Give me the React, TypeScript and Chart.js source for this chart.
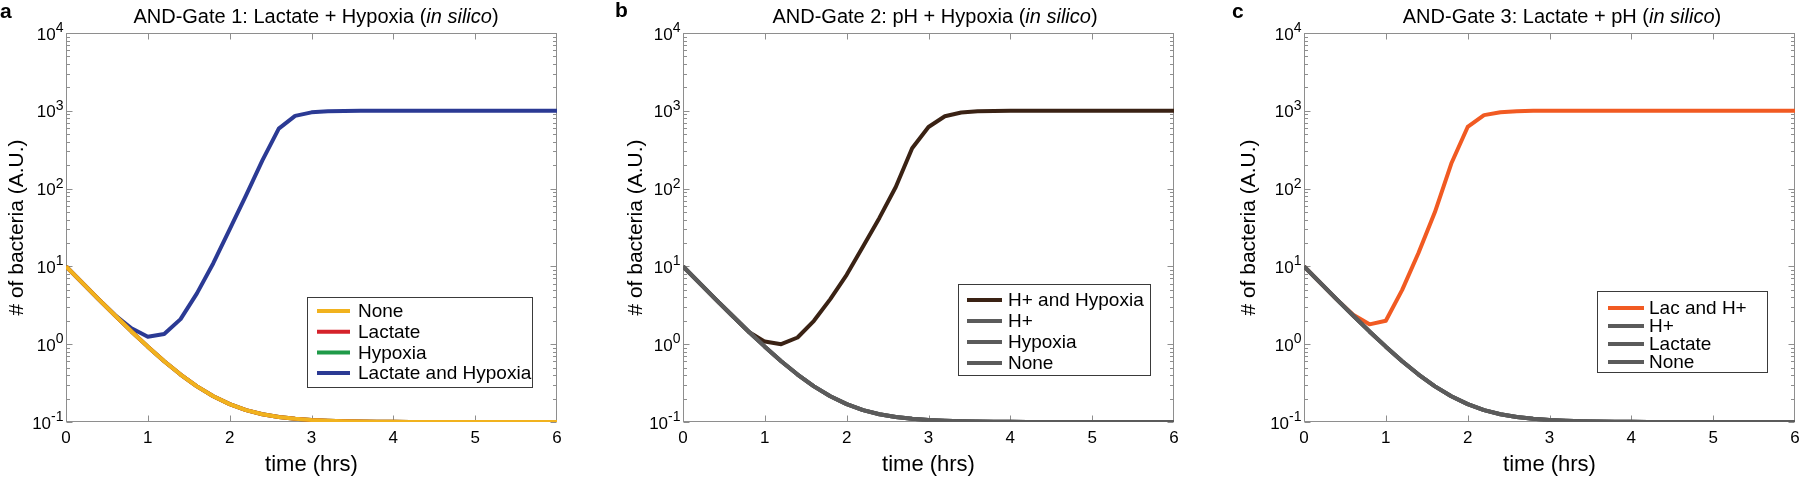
import React, { useEffect, useRef } from 'react';
import { Chart, registerables } from 'chart.js';

Chart.register(...registerables);

// ---------- data ----------
const TIME_HRS = [0, 0.2, 0.4, 0.6, 0.8, 1, 1.2, 1.4, 1.6, 1.8, 2, 2.2, 2.4, 2.6, 2.8, 3, 3.2, 3.4, 3.6, 3.8, 4, 4.2, 4.4, 4.6, 4.8, 5, 5.2, 5.4, 5.6, 5.8, 6];

// single-input / no-input conditions: decay toward 10^-1
const DECAY_ONLY = [10, 6.13, 3.77, 2.34, 1.46, 0.93, 0.605, 0.407, 0.287, 0.214, 0.17, 0.142, 0.126, 0.116, 0.11, 0.106, 0.1035, 0.1021, 0.1013, 0.1008, 0.1005, 0.1003, 0.1002, 0.1001, 0.1001, 0.1, 0.1, 0.1, 0.1, 0.1, 0.1];

const A_LACTATE_HYPOXIA = [10, 6.13, 3.77, 2.36, 1.6, 1.25, 1.35, 2.1, 4.5, 11, 30, 82, 230, 590, 860, 955, 988, 997, 1000, 1000, 1000, 1000, 1000, 1000, 1000, 1000, 1000, 1000, 1000, 1000, 1000];

const B_H_HYPOXIA = [10, 6.13, 3.77, 2.34, 1.45, 1.08, 1.0, 1.22, 2.0, 3.8, 7.8, 18, 42, 105, 330, 620, 850, 950, 985, 996, 1000, 1000, 1000, 1000, 1000, 1000, 1000, 1000, 1000, 1000, 1000];

const C_LAC_H = [10, 6.13, 3.77, 2.4, 1.8, 2.0, 5.0, 15, 50, 210, 620, 880, 960, 990, 998, 1000, 1000, 1000, 1000, 1000, 1000, 1000, 1000, 1000, 1000, 1000, 1000, 1000, 1000, 1000, 1000];

const Y_DECADE_EXPONENTS = [-1, 0, 1, 2, 3, 4];
const X_INNER_TICKS = [1, 2, 3, 4, 5];
const MINOR_MULTS = [2, 3, 4, 5, 6, 7, 8, 9];

const FONT = '"Liberation Sans", Arial, Helvetica, sans-serif';
const GRAY_AXIS = '#8e8e8e';

type Series = { label: string; data: number[]; color: string; order: number };
type LegendCfg = { x: number; y: number; w: number; h: number; row0: number; gap: number; s0: number; s1: number; tx: number };
type PanelCfg = {
  left: number;
  width: number;
  yAxisW: number;
  rightPad: number;
  yTitleCenter: number;
  letter: string;
  letterX: number;
  letterBase: number;
  titlePre: string;
  titleCenter: number;
  series: Series[];
  legend: LegendCfg;
};

const PANELS: PanelCfg[] = [
  {
    left: 0, width: 600, yAxisW: 66, rightPad: 43, yTitleCenter: 17,
    letter: 'a', letterX: 0, letterBase: 18,
    titlePre: 'AND-Gate 1: Lactate + Hypoxia (', titleCenter: 316,
    series: [
      { label: 'None', data: DECAY_ONLY, color: '#F1B21E', order: 0 },
      { label: 'Lactate', data: DECAY_ONLY, color: '#D5222B', order: 0 },
      { label: 'Hypoxia', data: DECAY_ONLY, color: '#1F9A48', order: 0 },
      { label: 'Lactate and Hypoxia', data: A_LACTATE_HYPOXIA, color: '#2B3A94', order: 1 },
    ],
    legend: { x: 307, y: 297, w: 226, h: 91, row0: 311, gap: 20.7, s0: 317, s1: 350, tx: 358 },
  },
  {
    left: 600, width: 600, yAxisW: 83, rightPad: 26, yTitleCenter: 636,
    letter: 'b', letterX: 615, letterBase: 17,
    titlePre: 'AND-Gate 2: pH + Hypoxia (', titleCenter: 935,
    series: [
      { label: 'H+ and Hypoxia', data: B_H_HYPOXIA, color: '#3A2214', order: 1 },
      { label: 'H+', data: DECAY_ONLY, color: '#5B5B5B', order: 0 },
      { label: 'Hypoxia', data: DECAY_ONLY, color: '#5B5B5B', order: 0 },
      { label: 'None', data: DECAY_ONLY, color: '#5B5B5B', order: 0 },
    ],
    legend: { x: 958, y: 284, w: 193, h: 92, row0: 300, gap: 21, s0: 967, s1: 1002, tx: 1008 },
  },
  {
    left: 1200, width: 600, yAxisW: 104, rightPad: 5, yTitleCenter: 1249,
    letter: 'c', letterX: 1232, letterBase: 18,
    titlePre: 'AND-Gate 3: Lactate + pH (', titleCenter: 1562,
    series: [
      { label: 'Lac and H+', data: C_LAC_H, color: '#F15A22', order: 1 },
      { label: 'H+', data: DECAY_ONLY, color: '#5B5B5B', order: 0 },
      { label: 'Lactate', data: DECAY_ONLY, color: '#5B5B5B', order: 0 },
      { label: 'None', data: DECAY_ONLY, color: '#5B5B5B', order: 0 },
    ],
    legend: { x: 1597, y: 291, w: 171, h: 82, row0: 308, gap: 18, s0: 1608, s1: 1644, tx: 1649 },
  },
];

function Panel({ cfg }: { cfg: PanelCfg }) {
  const ref = useRef<HTMLCanvasElement>(null);

  useEffect(() => {
    const canvas = ref.current;
    if (!canvas) return;
    const L = cfg.left;

    const framePlugin = {
      id: 'frameAndDecor',
      beforeDatasetsDraw(chart: any) {
        const { ctx, chartArea: a, scales } = chart;
        const xs = scales.x;
        const ys = scales.y;
        ctx.save();
        ctx.strokeStyle = GRAY_AXIS;
        ctx.lineWidth = 1;
        const l = Math.round(a.left) + 0.5;
        const r = Math.round(a.right) - 0.5;
        const t = Math.round(a.top) + 0.5;
        const b = Math.round(a.bottom) - 0.5;
        ctx.strokeRect(l, t, r - l, b - t);
        ctx.beginPath();
        for (const v of X_INNER_TICKS) {
          const px = Math.round(xs.getPixelForValue(v)) + 0.5;
          ctx.moveTo(px, b); ctx.lineTo(px, b - 6);
          ctx.moveTo(px, t); ctx.lineTo(px, t + 6);
        }
        for (const e of Y_DECADE_EXPONENTS) {
          const py = Math.round(ys.getPixelForValue(Math.pow(10, e))) + 0.5;
          ctx.moveTo(l, py); ctx.lineTo(l + 6, py);
          ctx.moveTo(r, py); ctx.lineTo(r - 6, py);
          if (e < 4) {
            for (const m of MINOR_MULTS) {
              const pm = Math.round(ys.getPixelForValue(m * Math.pow(10, e))) + 0.5;
              ctx.moveTo(l, pm); ctx.lineTo(l + 3.5, pm);
              ctx.moveTo(r, pm); ctx.lineTo(r - 3.5, pm);
            }
          }
        }
        ctx.stroke();
        ctx.restore();
      },
      afterDraw(chart: any) {
        const { ctx, chartArea: a, scales } = chart;
        const ys = scales.y;
        ctx.save();
        // y tick labels with superscripts
        for (const e of Y_DECADE_EXPONENTS) {
          const py = ys.getPixelForValue(Math.pow(10, e));
          const base = '10';
          const sup = String(e);
          ctx.font = `17px ${FONT}`;
          const wb = ctx.measureText(base).width;
          ctx.font = `14px ${FONT}`;
          const wsup = ctx.measureText(sup).width;
          const x0 = a.left - 2.5 - wb - wsup;
          ctx.fillStyle = '#000';
          ctx.textAlign = 'left';
          ctx.textBaseline = 'alphabetic';
          ctx.font = `17px ${FONT}`;
          ctx.fillText(base, x0, py + 6.5);
          ctx.font = `14px ${FONT}`;
          ctx.fillText(sup, x0 + wb, py - 1);
        }
        // title with italic part
        ctx.textBaseline = 'alphabetic';
        ctx.textAlign = 'left';
        const fN = `20px ${FONT}`;
        const fI = `italic 20px ${FONT}`;
        ctx.font = fN;
        const w1 = ctx.measureText(cfg.titlePre).width;
        const w3 = ctx.measureText(')').width;
        ctx.font = fI;
        const w2 = ctx.measureText('in silico').width;
        let tx = cfg.titleCenter - L - (w1 + w2 + w3) / 2;
        ctx.fillStyle = '#000';
        ctx.font = fN; ctx.fillText(cfg.titlePre, tx, 23); tx += w1;
        ctx.font = fI; ctx.fillText('in silico', tx, 23); tx += w2;
        ctx.font = fN; ctx.fillText(')', tx, 23);
        // panel letter
        ctx.font = `bold 21px ${FONT}`;
        ctx.fillText(cfg.letter, cfg.letterX - L, cfg.letterBase);
        // legend box
        const lg = cfg.legend;
        ctx.fillStyle = '#ffffff';
        ctx.fillRect(lg.x - L, lg.y, lg.w, lg.h);
        ctx.strokeStyle = '#3a3a3a';
        ctx.lineWidth = 1;
        ctx.strokeRect(lg.x - L + 0.5, lg.y + 0.5, lg.w - 1, lg.h - 1);
        ctx.font = `19px ${FONT}`;
        ctx.textBaseline = 'middle';
        cfg.series.forEach((s, i) => {
          const ry = lg.row0 + i * lg.gap;
          ctx.strokeStyle = s.color;
          ctx.lineWidth = 4;
          ctx.beginPath();
          ctx.moveTo(lg.s0 - L, ry);
          ctx.lineTo(lg.s1 - L, ry);
          ctx.stroke();
          ctx.fillStyle = '#000';
          ctx.fillText(s.label, lg.tx - L, ry + 1);
        });
        ctx.restore();
      },
    };

    const chart = new Chart(canvas, {
      type: 'line',
      data: {
        datasets: cfg.series.map((s) => ({
          label: s.label,
          data: TIME_HRS.map((t, i) => ({ x: t, y: s.data[i] })),
          borderColor: s.color,
          backgroundColor: s.color,
          borderWidth: 4,
          pointRadius: 0,
          tension: 0,
          fill: false,
          order: s.order,
          borderJoinStyle: 'round',
        })),
      },
      options: {
        responsive: false,
        animation: false,
        devicePixelRatio: 1,
        events: [],
        layout: { padding: { top: 33, right: cfg.rightPad, left: 0, bottom: 0 } },
        plugins: {
          legend: { display: false },
          tooltip: { enabled: false },
          title: { display: false },
        },
        scales: {
          x: {
            type: 'linear',
            min: 0,
            max: 6,
            grid: { display: false, drawTicks: false },
            border: { display: false },
            ticks: { stepSize: 1, color: '#000', font: { family: FONT, size: 17 }, padding: 6, maxRotation: 0 },
            title: {
              display: true,
              text: 'time (hrs)',
              color: '#000',
              font: { family: FONT, size: 22 },
              padding: { top: 0, bottom: 2 },
            },
            afterFit: (s: any) => {
              s.height = 58;
              s.paddingLeft = 0;
              s.paddingRight = 0;
            },
          },
          y: {
            type: 'logarithmic',
            min: 0.1,
            max: 10000,
            grid: { display: false, drawTicks: false },
            border: { display: false },
            ticks: { display: false },
            title: {
              display: true,
              text: '# of bacteria (A.U.)',
              color: '#000',
              font: { family: FONT, size: 21 },
              padding: { top: cfg.yTitleCenter - L - 12.6, bottom: 0 },
            },
            afterFit: (s: any) => {
              s.width = cfg.yAxisW;
            },
          },
        },
      } as any,
      plugins: [framePlugin],
    });
    return () => chart.destroy();
  }, [cfg]);

  return (
    <canvas
      ref={ref}
      width={cfg.width}
      height={480}
      style={{ position: 'absolute', left: cfg.left, top: 0, width: cfg.width, height: 480, display: 'block' }}
    />
  );
}

export default function App() {
  return (
    <div style={{ position: 'absolute', left: 0, top: 0, width: 1800, height: 480, background: '#ffffff', overflow: 'hidden' }}>
      {PANELS.map((p) => (
        <Panel key={p.letter} cfg={p} />
      ))}
    </div>
  );
}
